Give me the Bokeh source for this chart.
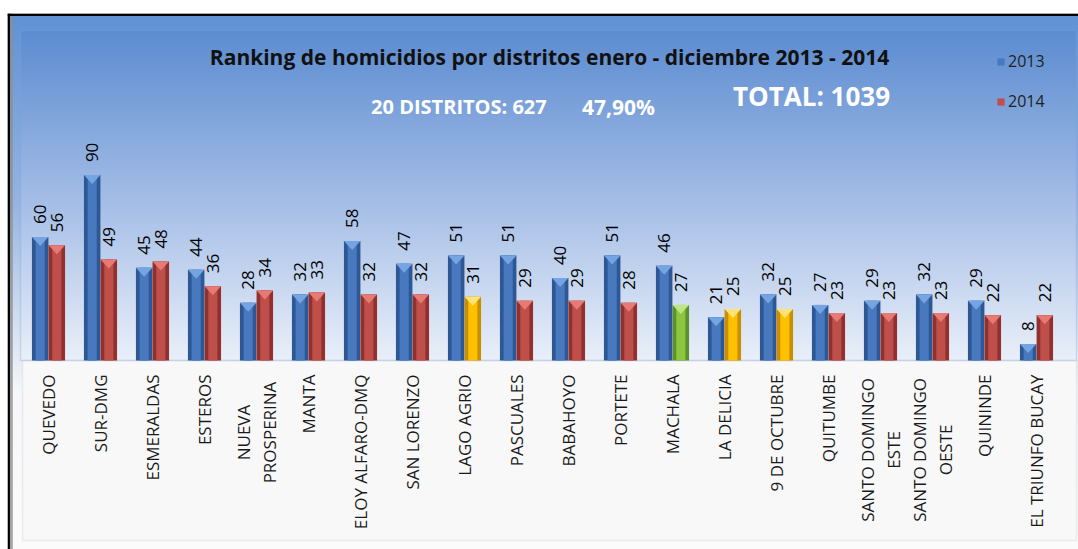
import numpy as np
from math import pi
from bokeh.plotting import figure
from bokeh.models import Range1d, ColumnDataSource, Label, Legend, LegendItem, BoxAnnotation, Span
from bokeh.core.properties import value
from bokeh.embed import file_html
from bokeh.resources import INLINE

# ---------------- data ----------------
districts = ["QUEVEDO", "SUR-DMG", "ESMERALDAS", "ESTEROS", "NUEVA\nPROSPERINA", "MANTA",
             "ELOY ALFARO-DMQ", "SAN LORENZO", "LAGO AGRIO", "PASCUALES", "BABAHOYO",
             "PORTETE", "MACHALA", "LA DELICIA", "9 DE OCTUBRE", "QUITUMBE",
             "SANTO DOMINGO\nESTE", "SANTO DOMINGO\nOESTE", "QUININDE", "EL TRIUNFO BUCAY"]
v2013 = [60, 90, 45, 44, 28, 32, 58, 47, 51, 51, 40, 51, 46, 21, 32, 27, 29, 32, 29, 8]
v2014 = [56, 49, 48, 36, 34, 33, 32, 32, 31, 29, 29, 28, 27, 25, 25, 23, 23, 23, 22, 22]
series_names = ["2013", "2014"]
title_text = "Ranking de homicidios por distritos enero - diciembre 2013 - 2014"
sub_text = "20  DISTRITOS: 627"
pct_text = "47,90%"
total_text = "TOTAL: 1039"

# ---------------- styles ----------------
STYLE = {
    "blue":   dict(edge="#2d5895", core="#4879bf", tip="#74a4e2"),
    "red":    dict(edge="#92302d", core="#bf4f4b", tip="#e67a75"),
    "yellow": dict(edge="#c98f00", core="#ffc000", tip="#ffe27a"),
    "green":  dict(edge="#5c9130", core="#8cc540", tip="#bde67f"),
}
HIGHLIGHT_2014 = {"LAGO AGRIO": "yellow", "MACHALA": "green", "LA DELICIA": "yellow", "9 DE OCTUBRE": "yellow"}

# page-pixel geometry helpers (layout only)
X0, DXP, BASE, PXU = 48.0, 52.0, 360.0, 2.06
def dx(px):
    return (px - X0) / DXP
def dy(py):
    return (BASE - py) / PXU

W, H = 1078, 549
FL, FT = 7, 13
p = figure(width=W, height=H, output_backend="svg", toolbar_location=None,
           x_range=Range1d(dx(FL), dx(W)), y_range=Range1d(dy(H), dy(FT)),
           x_axis_location=None, y_axis_location=None,
           min_border_left=FL, min_border_right=0, min_border_top=FT, min_border_bottom=0)
p.grid.visible = False
p.background_fill_color = "white"
p.border_fill_color = "white"
p.outline_line_color = None


def grad(stops, nrows, ncols):
    ts = 1.0 - (np.arange(nrows) + 0.5) / nrows
    arr = np.zeros((nrows, ncols, 4), dtype=np.uint8)
    tt = [s[0] for s in stops]
    for c in range(3):
        col = np.interp(ts, tt, [s[1][c] for s in stops])
        arr[:, :, c] = col[:, None].astype(np.uint8)
    arr[:, :, 3] = 255
    return arr.view(np.uint32).reshape(nrows, ncols)

outer = grad([(0.0, (96, 146, 213)), (0.35, (150, 180, 226)), (0.7, (245, 247, 250)), (1.0, (252, 252, 252))], 268, 535)
inner = grad([(0.0, (92, 140, 209)), (0.5, (162, 188, 230)), (1.0, (234, 240, 249))], 330, 529)
p.image_rgba(image=[outer], x=dx(FL), y=dy(H), dw=dx(W) - dx(FL), dh=dy(FT) - dy(H), level="image")
p.image_rgba(image=[inner], x=dx(20), y=0, dw=dx(1076) - dx(20), dh=dy(30), level="image")

p.add_layout(Span(location=dx(10.8), dimension="height", line_color="#8f8f8f", line_width=3, line_alpha=0.8, level="underlay"))
p.add_layout(BoxAnnotation(left=dx(22), right=dx(1076), top=0, bottom=dy(540),
                           fill_color="#f8f8f8", fill_alpha=1.0, line_color="#c9c9c9", line_width=1.5,
                           level="underlay"))
p.add_layout(BoxAnnotation(left=dx(20), right=dx(1076), top=dy(30), bottom=0,
                           fill_alpha=0, line_color="#7fa6dc", line_width=1.5, level="underlay"))
# black chart border (left and top; right/bottom fall outside the picture)
p.add_layout(Span(location=dx(8.2), dimension="height", line_color="black", line_width=2.5))
p.add_layout(Span(location=dy(14.2), dimension="width", line_color="black", line_width=2.5))

idx = np.arange(len(districts))
BW = 0.317
OFF = 0.16
TIP = 9 / PXU

renderers = {}
for si, (name, vals) in enumerate(zip(series_names, [v2013, v2014])):
    xs = idx + (-OFF if si == 0 else OFF)
    keys = ["blue"] * len(vals) if si == 0 else [HIGHLIGHT_2014.get(d.replace("\n", " "), "red") for d in districts]
    src = ColumnDataSource(dict(
        x=xs, top=vals, lab=[str(v) for v in vals],
        edge=[STYLE[k]["edge"] for k in keys],
        core=[STYLE[k]["core"] for k in keys],
        tip=[STYLE[k]["tip"] for k in keys],
        txs=[[x - BW / 2, x + BW / 2, x] for x in xs],
        tys=[[v, v, v - TIP] for v in vals],
    ))
    p.vbar(x="x", top="top", bottom=0, width=BW, source=src, fill_color="edge", line_color=None)
    rc = p.vbar(x="x", top="top", bottom=0, width=BW * 0.55, source=src, fill_color="core", line_color=None)
    p.patches(xs="txs", ys="tys", source=src, fill_color="tip", line_color=None)
    p.text(x="x", y="top", text="lab", source=src, angle=pi / 2, text_align="left", text_baseline="middle",
           y_offset=-13, text_font=value("Open Sans"), text_font_size="17px", text_color="#000000")
    renderers[name] = rc

# category labels: single-line ones end near the axis; multi-line blocks are centred lines
LAB_TOP = 374
CHAR_PX = 11.6
single = [i for i, d in enumerate(districts) if "\n" not in d]
multi = [i for i, d in enumerate(districts) if "\n" in d]
ssrc = ColumnDataSource(dict(x=[idx[i] for i in single], y=[dy(LAB_TOP)] * len(single),
                             t=[districts[i] for i in single]))
msrc = ColumnDataSource(dict(x=[idx[i] for i in multi],
                             y=[dy(LAB_TOP + CHAR_PX * max(len(s) for s in districts[i].split("\n")) / 2) for i in multi],
                             t=[districts[i] for i in multi]))
p.text(x="x", y="y", text="t", source=ssrc, angle=pi / 2, text_align="right", text_baseline="middle",
       text_font=value("Open Sans"), text_font_size="17px", text_color="#1a1a1a")
p.text(x="x", y="y", text="t", source=msrc, angle=pi / 2, text_align="center", text_baseline="middle",
       text_font=value("Open Sans"), text_font_size="17px", text_color="#1a1a1a", text_line_height=1.13)

# titles
p.add_layout(Label(x=dx(549), y=dy(56), text=title_text, text_align="center", text_baseline="middle",
                   text_font="Open Sans", text_font_style="bold", text_font_size="21px", text_color="#111111"))
p.add_layout(Label(x=dx(461), y=dy(106), text=sub_text, text_align="center", text_baseline="middle",
                   text_font="Open Sans", text_font_style="bold", text_font_size="20px", text_color="white"))
p.add_layout(Label(x=dx(618), y=dy(106), text=pct_text, text_align="center", text_baseline="middle",
                   text_font="Open Sans", text_font_style="bold", text_font_size="21px", text_color="white"))
p.add_layout(Label(x=dx(811), y=dy(95), text=total_text, text_align="center", text_baseline="middle",
                   text_font="Open Sans", text_font_style="bold", text_font_size="26px", text_color="white"))

legend = Legend(items=[LegendItem(label="2013", renderers=[renderers["2013"]], index=0),
                       LegendItem(label="2014", renderers=[renderers["2014"]], index=0)],
                location=(996 - FL, H - 112), background_fill_alpha=0, border_line_color=None,
                padding=0, margin=0, spacing=18, label_height=20, glyph_height=9, glyph_width=9,
                label_standoff=3, label_text_font="Open Sans", label_text_font_size="16px",
                label_text_color="#1f1f1f")
p.add_layout(legend)

open("out.html", "w").write(file_html(p, INLINE))
